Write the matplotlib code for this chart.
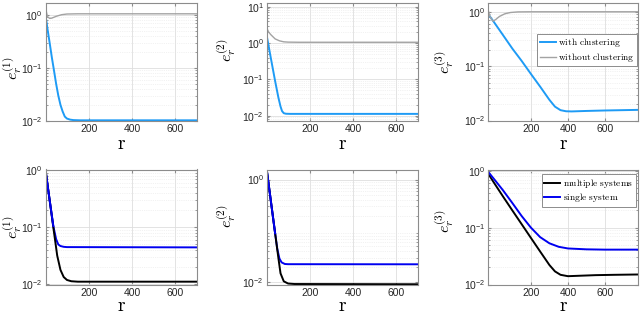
import matplotlib
matplotlib.use("Agg")
import matplotlib.pyplot as plt
from matplotlib.ticker import LogLocator, NullFormatter

plt.rcParams['mathtext.fontset'] = 'cm'
plt.rcParams['font.family'] = ['Liberation Sans', 'DejaVu Sans']

# ---------------- data ----------------
# top-left: e_r^(1)
r1_clu = [1, 10, 20, 30, 40, 50, 60, 70, 80, 90, 100, 115, 130, 160, 700]
e1_clu = [1.0, 0.55, 0.3, 0.16, 0.09, 0.05, 0.03, 0.02, 0.015, 0.012, 0.011, 0.0105, 0.0103, 0.0102, 0.0102]
r1_noc = [1, 5, 10, 20, 30, 50, 75, 100, 150, 700]
e1_noc = [1.65, 1.15, 0.93, 0.86, 0.87, 0.94, 1.01, 1.04, 1.05, 1.05]

# top-middle: e_r^(2)
r2_clu = [1, 20, 40, 55, 65, 72, 80, 90, 110, 700]
e2_clu = [1.6, 0.39, 0.09, 0.032, 0.018, 0.0135, 0.0118, 0.0114, 0.0113, 0.0113]
r2_noc = [1, 10, 20, 40, 60, 80, 100, 150, 700]
e2_noc = [2.6, 2.0, 1.7, 1.3, 1.15, 1.08, 1.06, 1.05, 1.05]

# top-right: e_r^(3)
r3_clu = [-30, 0, 50, 100, 150, 200, 250, 300, 330, 360, 390, 420, 500, 600, 780]
e3_clu = [0.9, 0.65, 0.37, 0.21, 0.125, 0.072, 0.042, 0.024, 0.018, 0.0155, 0.0148, 0.0147, 0.015, 0.0153, 0.0157]
r3_noc = [-30, -20, -5, 10, 30, 60, 90, 130, 200, 780]
e3_noc = [1.05, 0.8, 0.67, 0.72, 0.82, 0.92, 0.97, 0.995, 1.0, 1.0]

# bottom-left: e_r^(1)
r4_mul = [1, 20, 37, 55, 70, 85, 100, 120, 150, 700]
e4_mul = [1.0, 0.3, 0.1, 0.032, 0.018, 0.0135, 0.012, 0.0114, 0.0112, 0.0112]
r4_sin = [1, 20, 37, 50, 60, 70, 85, 100, 700]
e4_sin = [1.0, 0.3, 0.105, 0.062, 0.05, 0.047, 0.0455, 0.045, 0.0445]

# bottom-middle: e_r^(2)
r5_mul = [1, 20, 40, 55, 65, 80, 100, 130, 700]
e5_mul = [1.57, 0.39, 0.09, 0.03, 0.015, 0.0105, 0.0095, 0.0093, 0.0092]
r5_sin = [1, 20, 40, 50, 60, 70, 85, 100, 700]
e5_sin = [1.57, 0.39, 0.09, 0.045, 0.029, 0.0245, 0.0228, 0.0226, 0.0225]

# bottom-right: e_r^(3)
r6_mul = [-30, 0, 50, 100, 150, 200, 250, 300, 330, 360, 400, 450, 550, 650, 780]
e6_mul = [0.88, 0.62, 0.35, 0.2, 0.115, 0.066, 0.038, 0.022, 0.017, 0.0148, 0.014, 0.0142, 0.0146, 0.0148, 0.015]
r6_sin = [-30, 0, 50, 100, 150, 200, 250, 300, 350, 400, 500, 600, 780]
e6_sin = [0.95, 0.72, 0.45, 0.27, 0.16, 0.1, 0.068, 0.053, 0.046, 0.043, 0.0415, 0.041, 0.041]

xticks = [200, 400, 600]
labels_top = [r'$\mathrm{with\ clustering}$', r'$\mathrm{without\ clustering}$']
labels_bot = [r'$\mathrm{multiple\ systems}$', r'$\mathrm{single\ system}$']

C_CLU = '#1e9bf5'
C_NOC = '#a3a3a3'
C_MUL = '#000000'
C_SIN = '#0000f0'

fig = plt.figure(figsize=(6.4, 3.15), dpi=100)

cols = [(45.5, 151.5), (266.7, 151.0), (488.3, 150.0)]
ylab_x = [23.5, 237.5, 456]
top_row = (3, 121)
bot_row = (169.5, 285)


def make_ax(col, row):
    l, w = cols[col]
    t, b = row
    return fig.add_axes([l / 640, 1 - b / 315, w / 640, (b - t) / 315])


def style(ax, col, xlim, ylim, idx, yticks=None, ylab_y=0.5, xpad=1.5):
    ax.set_yscale('log')
    ax.set_xlim(*xlim)
    ax.set_ylim(*ylim)
    ax.set_xticks(xticks)
    if yticks is not None:
        ax.set_yticks(yticks)
    ax.yaxis.set_minor_locator(LogLocator(base=10, subs=range(2, 10), numticks=20))
    ax.yaxis.set_minor_formatter(NullFormatter())
    ax.grid(which='major', color='#dedede', lw=0.6)
    ax.grid(which='minor', axis='y', color='#e6e6e6', lw=0.5, ls=':')
    ax.set_axisbelow(True)
    for s in ax.spines.values():
        s.set_color('#8c8c8c')
        s.set_linewidth(0.8)
    ax.tick_params(which='both', direction='in', colors='#8c8c8c', labelcolor='#262626',
                   labelsize=7.5, top=True, right=True)
    ax.tick_params(which='major', length=2.5, pad=2)
    ax.tick_params(which='minor', length=1.3)
    ax.set_xlabel(r'$\mathrm{r}$', fontsize=14, labelpad=xpad)
    ax.set_ylabel(r'$e_r^{(%d)}$' % idx, fontsize=11.5)
    l, w = cols[col]
    ax.yaxis.set_label_coords((ylab_x[col] - l) / w, ylab_y)


def legend(ax, handles, labels, anchor):
    leg = ax.legend(handles, labels, loc='upper right', bbox_to_anchor=anchor, fontsize=6.8,
                    frameon=True, fancybox=False, borderpad=0.25, labelspacing=0.15,
                    handlelength=1.7, handletextpad=0.3, borderaxespad=0.1)
    leg.get_frame().set_edgecolor('#8c8c8c')
    leg.get_frame().set_linewidth(0.7)
    leg.get_frame().set_alpha(1)


lw_main = 1.4
lw_thin = 1.0

# top row
ax = make_ax(0, top_row)
ax.plot(r1_noc, e1_noc, color=C_NOC, lw=lw_thin)
ax.plot(r1_clu, e1_clu, color=C_CLU, lw=lw_main)
style(ax, 0, (1, 700), (0.0099, 1.68), 1, ylab_y=0.45)

ax = make_ax(1, top_row)
ax.plot(r2_noc, e2_noc, color=C_NOC, lw=lw_thin)
ax.plot(r2_clu, e2_clu, color=C_CLU, lw=lw_main)
style(ax, 1, (1, 700), (0.0072, 12.6), 2, ylab_y=0.6)

ax = make_ax(2, top_row)
l1, = ax.plot(r3_clu, e3_clu, color=C_CLU, lw=lw_main)
l2, = ax.plot(r3_noc, e3_noc, color=C_NOC, lw=lw_thin)
style(ax, 2, (-30, 780), (0.0098, 1.45), 3, ylab_y=0.5)
legend(ax, [l1, l2], labels_top, (1.0, 0.745))

# bottom row
ax = make_ax(0, bot_row)
ax.plot(r4_sin, e4_sin, color=C_SIN, lw=lw_main)
ax.plot(r4_mul, e4_mul, color=C_MUL, lw=lw_main)
ax.plot(r4_sin[:3], e4_sin[:3], color=C_SIN, lw=lw_main)
style(ax, 0, (1, 700), (0.0098, 1.02), 1, xpad=0.5)

ax = make_ax(1, bot_row)
ax.plot(r5_sin, e5_sin, color=C_SIN, lw=lw_main)
ax.plot(r5_mul, e5_mul, color=C_MUL, lw=lw_main)
ax.plot(r5_sin[:3], e5_sin[:3], color=C_SIN, lw=lw_main)
style(ax, 1, (1, 700), (0.0089, 1.57), 2, yticks=[0.01, 1], ylab_y=0.6, xpad=0.5)

ax = make_ax(2, bot_row)
m1, = ax.plot(r6_mul, e6_mul, color=C_MUL, lw=lw_main)
m2, = ax.plot(r6_sin, e6_sin, color=C_SIN, lw=lw_main)
style(ax, 2, (-30, 780), (0.0098, 1.05), 3, ylab_y=0.55, xpad=0.5)
legend(ax, [m1, m2], labels_bot, (0.99, 0.965))

fig.savefig('out.png', dpi=100)
